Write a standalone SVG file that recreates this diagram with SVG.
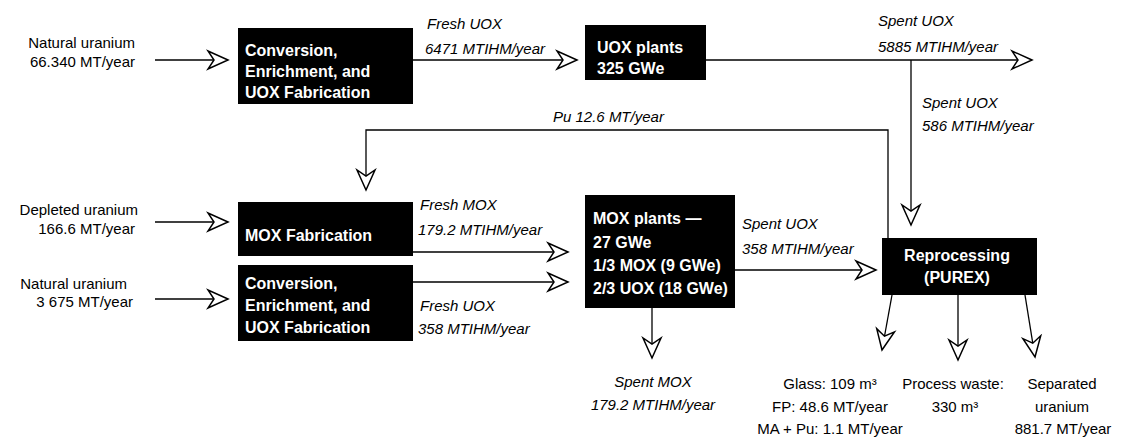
<svg xmlns="http://www.w3.org/2000/svg" width="1122" height="439" viewBox="0 0 1122 439">
<style>
.box{fill:#000}
.bt{font-family:"Liberation Sans",Arial,sans-serif;font-size:16px;font-weight:bold;fill:#fff}
.lb{font-family:"Liberation Sans",Arial,sans-serif;font-size:15px;fill:#000}
.it{font-family:"Liberation Sans",Arial,sans-serif;font-size:15px;font-style:italic;fill:#000}
.ln{fill:none;stroke:#000;stroke-width:1.3}
</style>
<defs>
<marker id="ah" markerUnits="userSpaceOnUse" markerWidth="24" markerHeight="24" viewBox="-22 -11 24 22" refX="0" refY="0" orient="auto">
<path d="M0,0 L-20,-9 L-14,0 L-20,9 Z" fill="#fff" stroke="#000" stroke-width="1.5" stroke-linejoin="miter"/>
</marker>
</defs>
<rect width="1122" height="439" fill="#fff"/>

<g id="connectors">
<line class="ln" x1="155" y1="60" x2="228" y2="60" marker-end="url(#ah)"/>
<line class="ln" x1="413" y1="60" x2="577" y2="60" marker-end="url(#ah)"/>
<line class="ln" x1="706" y1="60" x2="1032" y2="60" marker-end="url(#ah)"/>
<line class="ln" x1="911" y1="60" x2="911" y2="225" marker-end="url(#ah)"/>
<path class="ln" d="M888,238 V130 H366 V190" marker-end="url(#ah)"/>
<line class="ln" x1="155" y1="222" x2="228" y2="222" marker-end="url(#ah)"/>
<line class="ln" x1="155" y1="299" x2="228" y2="299" marker-end="url(#ah)"/>
<line class="ln" x1="413" y1="252" x2="568" y2="252" marker-end="url(#ah)"/>
<line class="ln" x1="413" y1="282" x2="568" y2="282" marker-end="url(#ah)"/>
<line class="ln" x1="735" y1="270" x2="876" y2="270" marker-end="url(#ah)"/>
<line class="ln" x1="652" y1="308" x2="652" y2="358" marker-end="url(#ah)"/>
<line class="ln" x1="892" y1="295" x2="882" y2="350" marker-end="url(#ah)"/>
<line class="ln" x1="958" y1="295" x2="958" y2="360" marker-end="url(#ah)"/>
<line class="ln" x1="1025" y1="295" x2="1035" y2="357" marker-end="url(#ah)"/>
</g>

<g id="labels">
<text class="lb" text-anchor="end" x="135" y="48">Natural uranium</text>
<text class="lb" text-anchor="end" x="135" y="67">66.340 MT/year</text>
<text class="lb" text-anchor="end" x="138" y="215">Depleted uranium</text>
<text class="lb" text-anchor="end" x="135" y="234">166.6 MT/year</text>
<text class="lb" text-anchor="end" x="127" y="289">Natural uranium</text>
<text class="lb" text-anchor="end" x="133" y="307">3 675 MT/year</text>
<text class="it" x="427" y="29">Fresh UOX</text>
<text class="it" x="425" y="54">6471 MTIHM/year</text>
<text class="it" x="878" y="26">Spent UOX</text>
<text class="it" x="878" y="52">5885 MTIHM/year</text>
<text class="it" x="922" y="108">Spent UOX</text>
<text class="it" x="922" y="131">586 MTIHM/year</text>
<text class="it" x="553" y="122">Pu 12.6 MT/year</text>
<text class="it" x="420" y="210">Fresh MOX</text>
<text class="it" x="418" y="235">179.2 MTIHM/year</text>
<text class="it" x="420" y="311">Fresh UOX</text>
<text class="it" x="418" y="334">358 MTIHM/year</text>
<text class="it" x="742" y="229">Spent UOX</text>
<text class="it" x="742" y="254">358 MTIHM/year</text>
<text class="it" text-anchor="middle" x="653" y="387">Spent MOX</text>
<text class="it" text-anchor="middle" x="653" y="410">179.2 MTIHM/year</text>
<text class="lb" text-anchor="middle" x="830" y="389">Glass: 109 m³</text>
<text class="lb" text-anchor="middle" x="830" y="412">FP: 48.6 MT/year</text>
<text class="lb" text-anchor="middle" x="830" y="434">MA + Pu: 1.1 MT/year</text>
<text class="lb" text-anchor="middle" x="953" y="389">Process waste:</text>
<text class="lb" text-anchor="middle" x="955" y="412">330 m³</text>
<text class="lb" text-anchor="middle" x="1062" y="389">Separated</text>
<text class="lb" text-anchor="middle" x="1062" y="412">uranium</text>
<text class="lb" text-anchor="middle" x="1063" y="434">881.7 MT/year</text>
</g>

<g id="conv1">
<rect class="box" x="238" y="28" width="175" height="76"/>
<text class="bt" x="245" y="56">Conversion,</text>
<text class="bt" x="245" y="77">Enrichment, and</text>
<text class="bt" x="245" y="98">UOX Fabrication</text>
</g>
<g id="uoxplants">
<rect class="box" x="585" y="25" width="121" height="55"/>
<text class="bt" x="597" y="53">UOX plants</text>
<text class="bt" x="597" y="74">325 GWe</text>
</g>
<g id="moxfab">
<rect class="box" x="238" y="202" width="175" height="54"/>
<text class="bt" x="245" y="241">MOX Fabrication</text>
</g>
<g id="conv2">
<rect class="box" x="238" y="265" width="175" height="76"/>
<text class="bt" x="245" y="289">Conversion,</text>
<text class="bt" x="245" y="311">Enrichment, and</text>
<text class="bt" x="245" y="333">UOX Fabrication</text>
</g>
<g id="moxplants">
<rect class="box" x="585" y="195" width="150" height="113"/>
<text class="bt" x="593" y="224">MOX plants —</text>
<text class="bt" x="593" y="248">27 GWe</text>
<text class="bt" x="593" y="271">1/3 MOX (9 GWe)</text>
<text class="bt" x="593" y="294">2/3 UOX (18 GWe)</text>
</g>
<g id="reprocessing">
<rect class="box" x="882" y="238" width="155" height="57"/>
<text class="bt" text-anchor="middle" x="957" y="261">Reprocessing</text>
<text class="bt" text-anchor="middle" x="957" y="283">(PUREX)</text>
</g>
</svg>
